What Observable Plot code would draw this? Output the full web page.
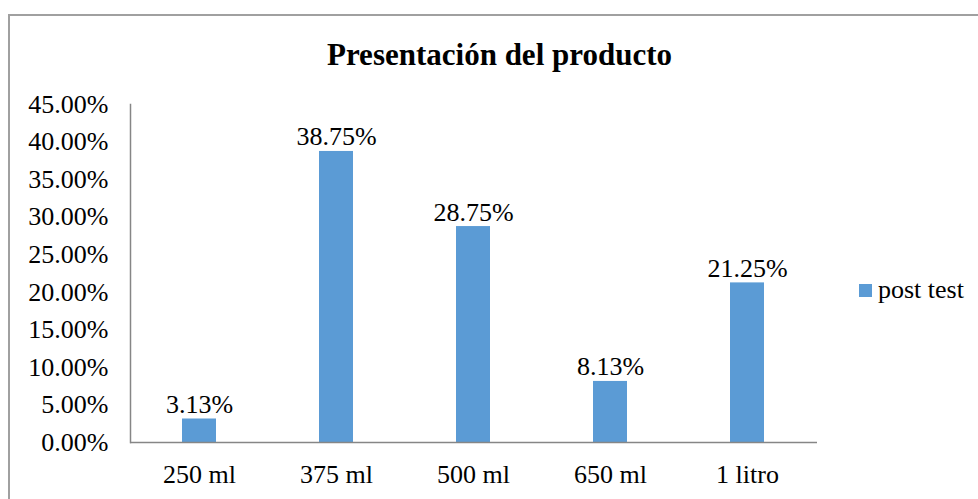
<!DOCTYPE html>
<html>
<head>
<meta charset="utf-8">
<script src="https://cdn.jsdelivr.net/npm/d3@7"></script>
<script src="https://cdn.jsdelivr.net/npm/@observablehq/plot@0.6"></script>
<style>
  html, body { margin: 0; padding: 0; background: #fff; }
  #page { position: relative; width: 978px; height: 499px; overflow: hidden; font-family: "Liberation Serif", "Times New Roman", serif; }
  #border { position: absolute; left: 8px; top: 14px; width: 1100px; height: 600px; border-left: 2px solid #a0a0a0; border-top: 2px solid #a0a0a0; }
  #chart { position: absolute; left: 0; top: 0; }
  #title { position: absolute; left: 0; width: 999px; top: 39px; text-align: center; font-size: 31px; line-height: 31px; font-weight: bold; color: #000; }
  #legend { position: absolute; left: 859px; top: 277px; font-size: 26px; line-height: 26px; color: #000; white-space: nowrap; }
  #legend .sw { position: absolute; left: 0; top: 7px; width: 13px; height: 13px; }
  #legend .lb { position: absolute; left: 19px; top: 0; }
</style>
</head>
<body>
<div id="page">
  <div id="border"></div>
  <div id="chart"></div>
  <div id="title"></div>
  <div id="legend"><span class="sw"></span><span class="lb"></span></div>
</div>
<script>
// Presentación del producto — post test results (percent of respondents)
const title = "Presentación del producto";
const seriesName = "post test";
const categories = ["250 ml", "375 ml", "500 ml", "650 ml", "1 litro"];
const values = [3.13, 38.75, 28.75, 8.13, 21.25];
const yTicks = [0, 5, 10, 15, 20, 25, 30, 35, 40, 45];
const barColor = "#5B9BD5";

const data = categories.map((c, i) => ({ category: c, value: values[i] }));
const pct = (v) => v.toFixed(2) + "%";

const chart = Plot.plot({
  width: 978,
  height: 499,
  marginLeft: 130,
  marginRight: 161,
  marginTop: 104,
  marginBottom: 57,
  style: { fontFamily: "'Liberation Serif', 'Times New Roman', serif", fontSize: "26px", color: "#000", background: "transparent" },
  x: { domain: categories, paddingInner: 0.75, paddingOuter: 0.375, label: null },
  y: { domain: [0, 45], label: null },
  marks: [
    Plot.barY(data, { x: "category", y: "value", fill: barColor }),
    Plot.text(data, {
      x: "category", y: "value", text: (d) => pct(d.value),
      lineAnchor: "bottom", dy: -6, fontSize: 26, fill: "#000"
    }),
    Plot.axisY({ ticks: yTicks, tickFormat: pct, tickSize: 0, tickPadding: 22, fontSize: 26, label: null }),
    Plot.axisX({ tickSize: 0, tickPadding: 22, fontSize: 26, label: null }),
    Plot.frame({ anchor: "left", stroke: "#868686", strokeWidth: 1.5 }),
    Plot.ruleY([0], { stroke: "#868686", strokeWidth: 1.5 })
  ]
});

document.getElementById("chart").appendChild(chart);
document.getElementById("title").textContent = title;
document.querySelector("#legend .sw").style.background = barColor;
document.querySelector("#legend .lb").textContent = seriesName;
</script>
</body>
</html>
